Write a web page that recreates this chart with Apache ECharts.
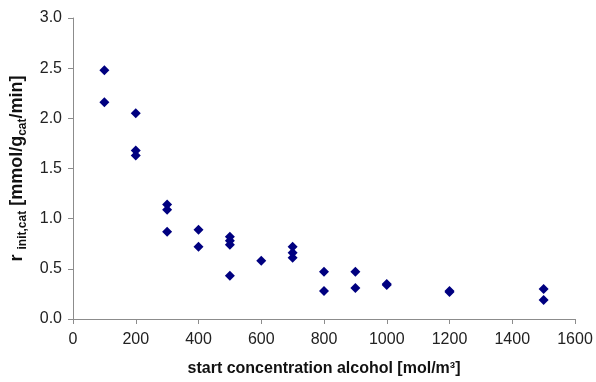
<!DOCTYPE html>
<html>
<head>
<meta charset="utf-8">
<script src="https://cdn.jsdelivr.net/npm/echarts@6/dist/echarts.min.js"></script>
<style>
  html, body { margin: 0; padding: 0; background: #fff; }
  #chart { width: 596px; height: 382px; }
</style>
</head>
<body>
<div id="chart"></div>
<script>
// Start concentration of alcohol (mol/m3) for each measurement
const concentration = [
  100, 100,
  200, 200, 200,
  300, 300, 300,
  400, 400,
  500, 500, 500, 500,
  600,
  700, 700, 700,
  800, 800,
  900, 900,
  1000, 1000,
  1200, 1200,
  1500, 1500
];
// Initial rate per gram of catalyst (mmol/g_cat/min)
const initialRate = [
  2.48, 2.16,
  2.05, 1.68, 1.63,
  1.14, 1.09, 0.87,
  0.89, 0.72,
  0.82, 0.78, 0.74, 0.43,
  0.58,
  0.72, 0.66, 0.61,
  0.47, 0.28,
  0.47, 0.31,
  0.35, 0.34,
  0.28, 0.27,
  0.30, 0.19
];
const xTicks = { min: 0, max: 1600, interval: 200 };
const yTicks = { min: 0, max: 3, interval: 0.5 };

const points = concentration.map((c, i) => [c, initialRate[i]]);

const FONT = '"Liberation Sans", Arial, sans-serif';
const axisGray = '#8c8c8c';

const chart = echarts.init(document.getElementById('chart'), null, { renderer: 'canvas' });
chart.setOption({
  animation: false,
  backgroundColor: '#ffffff',
  grid: { left: 73, right: 21, top: 18, bottom: 63, containLabel: false, outerBoundsMode: 'none' },
  xAxis: {
    type: 'value',
    min: xTicks.min, max: xTicks.max, interval: xTicks.interval,
    name: 'start concentration alcohol [mol/m³]',
    nameLocation: 'middle',
    nameGap: 42,
    nameTextStyle: { fontFamily: FONT, fontSize: 16, fontWeight: 'bold', color: '#111' },
    axisLine: { show: true, lineStyle: { color: axisGray, width: 1 } },
    axisTick: { show: true, inside: false, length: 5, lineStyle: { color: axisGray } },
    axisLabel: { fontFamily: FONT, fontSize: 16, color: '#222', margin: 13, formatter: v => String(v) },
    splitLine: { show: false }
  },
  yAxis: {
    type: 'value',
    min: yTicks.min, max: yTicks.max, interval: yTicks.interval,
    name: '{b|r }{s|init,cat}{b| [mmol/g}{s|cat}{b|/min]}',
    nameLocation: 'middle',
    nameRotate: 90,
    nameGap: 37,
    nameTextStyle: {
      rich: {
        b: { fontFamily: FONT, fontSize: 18, fontWeight: 'bold', color: '#111', lineHeight: 24, verticalAlign: 'middle' },
        s: { fontFamily: FONT, fontSize: 12, fontWeight: 'bold', color: '#111', lineHeight: 12, verticalAlign: 'bottom' }
      }
    },
    axisLine: { show: true, lineStyle: { color: axisGray, width: 1 } },
    axisTick: { show: true, inside: false, length: 5, lineStyle: { color: axisGray } },
    axisLabel: {
      fontFamily: FONT, fontSize: 16, color: '#222', margin: 11,
      formatter: v => v.toFixed(1)
    },
    splitLine: { show: false }
  },
  series: [{
    type: 'scatter',
    data: points,
    symbol: 'diamond',
    symbolSize: 10,
    itemStyle: { color: '#000080', opacity: 1 }
  }]
});
</script>
</body>
</html>
